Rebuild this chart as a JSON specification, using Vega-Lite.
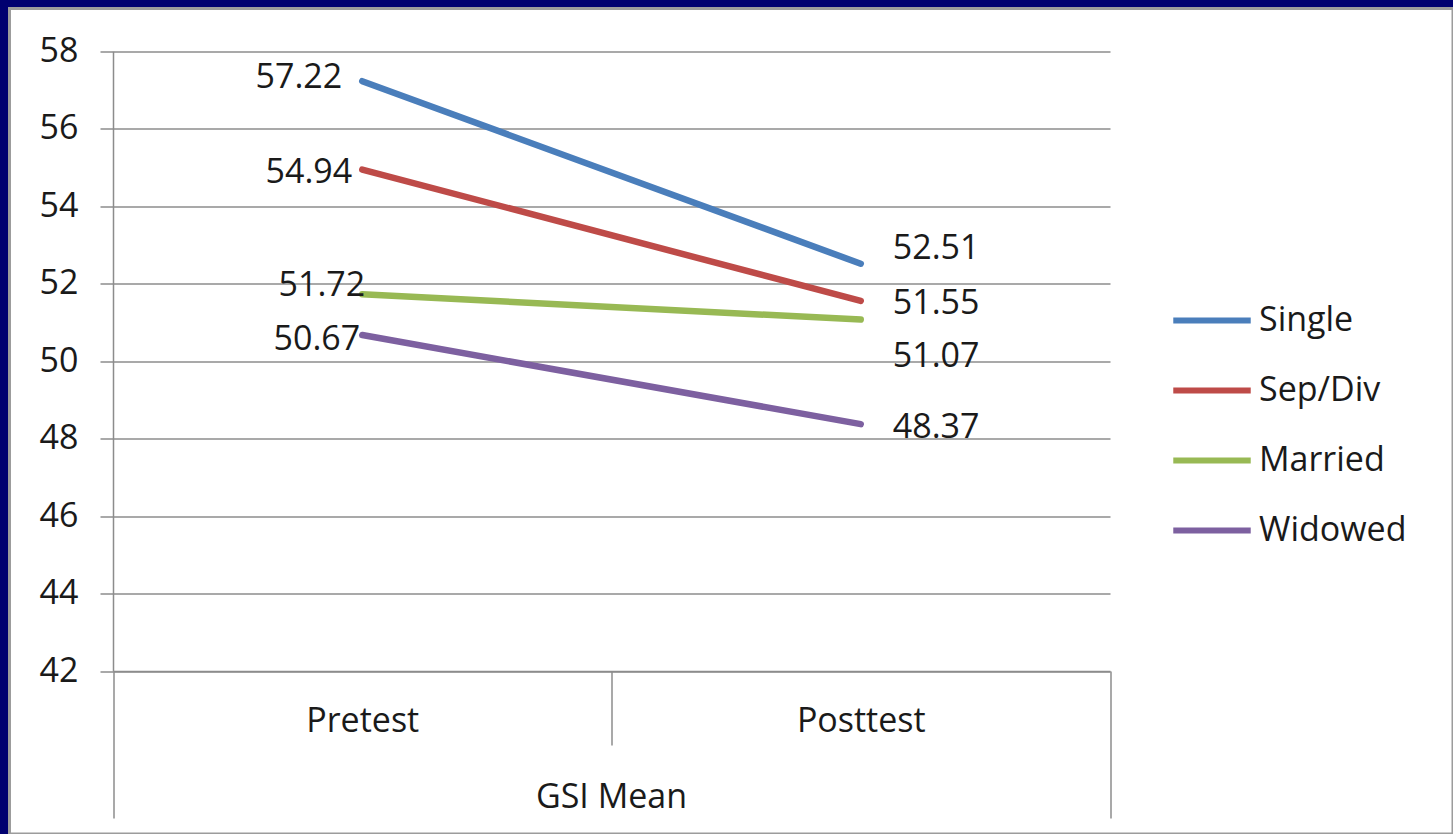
{
  "$schema": "https://vega.github.io/schema/vega-lite/v6.json",
  "autosize": {"type": "none"},
  "width": 1443.5,
  "height": 825.5,
  "padding": {"left": 9.5, "top": 8.5, "right": 0, "bottom": 0},
  "background": "#000070",
  "config": {
    "view": {"fill": "#ffffff", "stroke": "#9c9c9c", "strokeWidth": 3},
    "font": "Open Sans",
    "text": {"font": "Open Sans", "fontSize": 34, "fill": "#1a1a1a", "baseline": "middle"}
  },
  "datasets": {
    "gsi": [
      {"test": "Pretest", "group": "Single", "mean": 57.22},
      {"test": "Pretest", "group": "Sep/Div", "mean": 54.94},
      {"test": "Pretest", "group": "Married", "mean": 51.72},
      {"test": "Pretest", "group": "Widowed", "mean": 50.67},
      {"test": "Posttest", "group": "Single", "mean": 52.51},
      {"test": "Posttest", "group": "Sep/Div", "mean": 51.55},
      {"test": "Posttest", "group": "Married", "mean": 51.07},
      {"test": "Posttest", "group": "Widowed", "mean": 48.37}
    ]
  },
  "data": {"name": "gsi"},
  "encoding": {
    "x": {
      "field": "test",
      "type": "nominal",
      "sort": ["Pretest", "Posttest"],
      "scale": {"type": "band", "range": [103.5, 1100.5], "paddingInner": 0, "paddingOuter": 0},
      "axis": {
        "title": "GSI Mean",
        "offset": -163,
        "labelAngle": 0,
        "tickBand": "extent",
        "tickSize": {"condition": {"test": "datum.value === 'Pretest'", "value": 74}, "value": 147},
        "labelPadding": {"condition": {"test": "datum.value === 'Pretest'", "value": -41}, "value": -114},
        "tickColor": "#8c8c8c",
        "tickWidth": 1.5,
        "domainColor": "#8c8c8c",
        "domainWidth": 1.5,
        "labelFont": "Open Sans",
        "labelFontSize": 34,
        "labelColor": "#1a1a1a",
        "titleFont": "Open Sans",
        "titleFontSize": 34,
        "titleFontWeight": "normal",
        "titleColor": "#1a1a1a",
        "titleX": 601.5,
        "titleY": 136,
        "titleAlign": "center",
        "titleBaseline": "alphabetic"
      }
    },
    "y": {
      "field": "mean",
      "type": "quantitative",
      "scale": {"domain": [42, 58], "range": [662.5, 42.5], "nice": false, "zero": false},
      "axis": {
        "title": null,
        "offset": -103.5,
        "values": [42, 44, 46, 48, 50, 52, 54, 56, 58],
        "grid": true,
        "gridColor": "#8c8c8c",
        "gridWidth": 1.5,
        "tickSize": 13,
        "tickColor": "#8c8c8c",
        "tickWidth": 1.5,
        "domainColor": "#8c8c8c",
        "domainWidth": 1.5,
        "labelPadding": 22,
        "labelFont": "Open Sans",
        "labelFontSize": 34,
        "labelColor": "#1a1a1a"
      }
    }
  },
  "layer": [
    {
      "mark": {"type": "line", "strokeWidth": 6.5, "strokeCap": "round"},
      "encoding": {
        "color": {
          "field": "group",
          "type": "nominal",
          "scale": {
            "domain": ["Single", "Sep/Div", "Married", "Widowed"],
            "range": ["#4a7ebb", "#be4b48", "#98b954", "#7d60a0"]
          },
          "legend": {
            "title": null,
            "orient": "none",
            "legendX": 1160.5,
            "legendY": 270,
            "symbolType": "stroke",
            "symbolSize": 6000,
            "symbolStrokeWidth": 6,
            "labelFont": "Open Sans",
            "labelFontSize": 34,
            "labelColor": "#1a1a1a",
            "labelOffset": 5,
            "rowPadding": 11
          }
        }
      }
    },
    {
      "transform": [{"filter": "datum.test === 'Pretest' && datum.group === 'Single'"}],
      "mark": {"type": "text", "align": "right", "dx": -20, "dy": -3},
      "encoding": {"text": {"field": "mean", "type": "quantitative", "format": ".2f"}}
    },
    {
      "transform": [{"filter": "datum.test === 'Pretest' && datum.group === 'Sep/Div'"}],
      "mark": {"type": "text", "align": "right", "dx": -10, "dy": 3},
      "encoding": {"text": {"field": "mean", "type": "quantitative", "format": ".2f"}}
    },
    {
      "transform": [{"filter": "datum.test === 'Pretest' && datum.group === 'Married'"}],
      "mark": {"type": "text", "align": "right", "dx": 3, "dy": -8.5},
      "encoding": {"text": {"field": "mean", "type": "quantitative", "format": ".2f"}}
    },
    {
      "transform": [{"filter": "datum.test === 'Pretest' && datum.group === 'Widowed'"}],
      "mark": {"type": "text", "align": "right", "dx": -2, "dy": 5},
      "encoding": {"text": {"field": "mean", "type": "quantitative", "format": ".2f"}}
    },
    {
      "transform": [{"filter": "datum.test === 'Posttest' && datum.group === 'Single'"}],
      "mark": {"type": "text", "align": "left", "dx": 32, "dy": -15},
      "encoding": {"text": {"field": "mean", "type": "quantitative", "format": ".2f"}}
    },
    {
      "transform": [{"filter": "datum.test === 'Posttest' && datum.group === 'Sep/Div'"}],
      "mark": {"type": "text", "align": "left", "dx": 32, "dy": 3.5},
      "encoding": {"text": {"field": "mean", "type": "quantitative", "format": ".2f"}}
    },
    {
      "transform": [{"filter": "datum.test === 'Posttest' && datum.group === 'Married'"}],
      "mark": {"type": "text", "align": "left", "dx": 32, "dy": 37.5},
      "encoding": {"text": {"field": "mean", "type": "quantitative", "format": ".2f"}}
    },
    {
      "transform": [{"filter": "datum.test === 'Posttest' && datum.group === 'Widowed'"}],
      "mark": {"type": "text", "align": "left", "dx": 32, "dy": 4},
      "encoding": {"text": {"field": "mean", "type": "quantitative", "format": ".2f"}}
    }
  ]
}
